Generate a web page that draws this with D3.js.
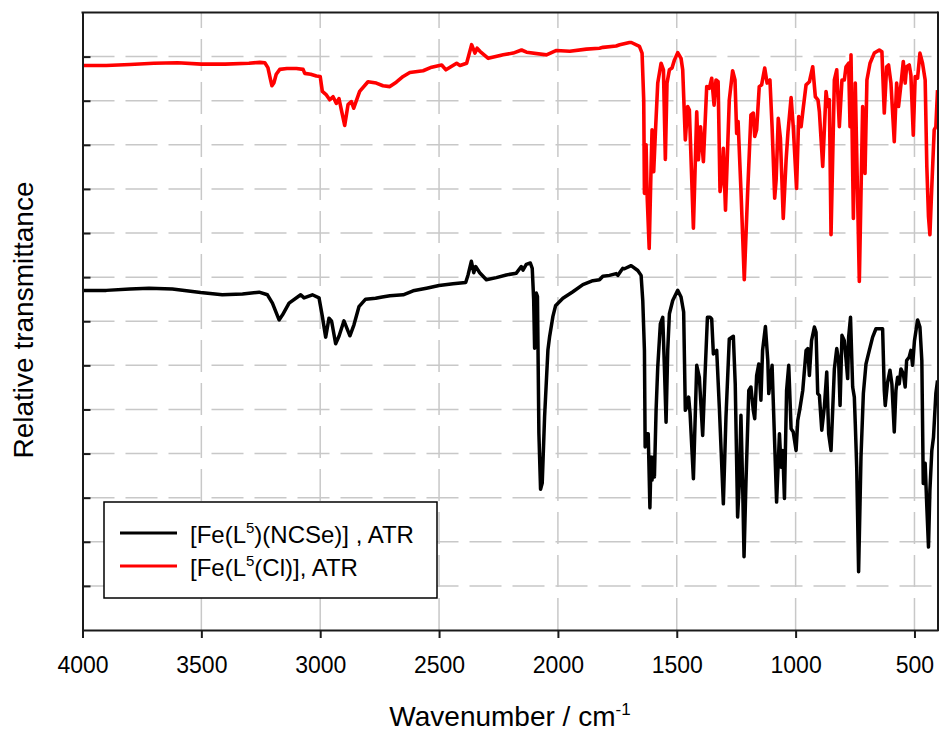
<!DOCTYPE html>
<html>
<head>
<meta charset="utf-8">
<script src="https://cdn.jsdelivr.net/npm/d3@7"></script>
<style>
  body { margin: 0; background: #fff; }
  svg { display: block; }
  text { font-family: "Liberation Sans", Arial, sans-serif; fill: #000; }
</style>
</head>
<body>
<div id="chart"></div>
<script>
// wavenumber (cm-1), relative transmittance (arbitrary units, offset traces)
const redSpectrum = [
  [4000, 12.80], [3900, 12.80], [3800, 12.82], [3700, 12.85], [3600, 12.86], [3500, 12.83],
  [3400, 12.83], [3300, 12.85], [3254, 12.87], [3233, 12.86], [3220, 12.75], [3210, 12.50],
  [3203, 12.34], [3195, 12.40], [3185, 12.60], [3170, 12.71], [3140, 12.73], [3100, 12.73],
  [3072, 12.71], [3065, 12.62], [3040, 12.60], [3016, 12.56], [3000, 12.55], [2991, 12.21],
  [2974, 12.13], [2960, 12.02], [2946, 12.09], [2932, 11.94], [2921, 12.05], [2911, 11.79],
  [2897, 11.44], [2883, 11.91], [2869, 11.98], [2859, 11.83], [2834, 12.21], [2799, 12.43],
  [2764, 12.40], [2736, 12.34], [2707, 12.32], [2680, 12.42], [2651, 12.55], [2623, 12.64],
  [2567, 12.68], [2531, 12.76], [2489, 12.81], [2471, 12.70], [2426, 12.85], [2412, 12.80],
  [2384, 12.85], [2363, 13.27], [2349, 13.08], [2340, 13.19], [2328, 13.12], [2293, 12.96],
  [2230, 13.04], [2188, 13.08], [2153, 13.15], [2132, 13.10], [2048, 13.04], [2006, 13.14],
  [1950, 13.12], [1880, 13.17], [1825, 13.19], [1810, 13.21], [1755, 13.24], [1740, 13.27],
  [1699, 13.32], [1691, 13.32], [1657, 13.23], [1646, 13.08], [1639, 12.02], [1636, 9.90],
  [1629, 11.00], [1625, 9.90], [1616, 8.65], [1608, 10.51], [1604, 11.34], [1597, 10.39],
  [1590, 11.26], [1580, 12.40], [1566, 12.85], [1556, 12.70], [1548, 10.67], [1541, 12.40],
  [1531, 12.70], [1520, 12.74], [1510, 12.92], [1496, 13.09], [1482, 12.96], [1475, 12.70],
  [1464, 11.11], [1454, 11.87], [1447, 11.79], [1430, 9.11], [1416, 11.75], [1409, 10.66],
  [1400, 11.41], [1388, 10.62], [1374, 12.32], [1363, 12.28], [1353, 12.51], [1343, 11.90],
  [1335, 12.47], [1326, 12.43], [1318, 9.94], [1309, 10.28], [1304, 10.92], [1295, 9.52],
  [1279, 12.02], [1265, 12.68], [1255, 12.47], [1248, 11.26], [1242, 11.53], [1230, 9.98],
  [1216, 7.94], [1202, 9.90], [1188, 11.68], [1178, 11.72], [1172, 11.19], [1164, 11.34],
  [1153, 12.32], [1143, 12.36], [1130, 12.74], [1120, 12.40], [1108, 12.47], [1099, 11.41],
  [1088, 9.79], [1082, 10.20], [1073, 11.60], [1064, 11.15], [1052, 9.33], [1040, 10.66],
  [1032, 11.30], [1019, 12.07], [1010, 11.41], [996, 10.01], [987, 11.64], [977, 11.41],
  [968, 11.83], [956, 12.36], [942, 12.43], [928, 12.77], [917, 12.09], [906, 12.02],
  [900, 11.75], [886, 10.51], [872, 12.21], [864, 11.87], [858, 12.02], [851, 8.96],
  [837, 12.47], [827, 12.70], [816, 11.41], [805, 12.47], [795, 12.47], [788, 12.77],
  [777, 12.85], [771, 11.41], [767, 13.04], [757, 9.33], [749, 12.40], [739, 9.75],
  [732, 7.90], [718, 11.87], [708, 10.35], [700, 12.47], [687, 12.85], [669, 13.08],
  [648, 13.15], [637, 13.11], [627, 11.72], [617, 12.77], [609, 12.81], [599, 12.40],
  [585, 11.07], [575, 12.40], [567, 11.87], [557, 12.36], [547, 12.89], [539, 12.40],
  [533, 12.77], [522, 12.81], [515, 12.58], [505, 11.22], [497, 12.55], [487, 12.51],
  [477, 13.08], [466, 12.85], [455, 12.47], [448, 10.51], [441, 9.37], [435, 8.96],
  [427, 10.06], [417, 11.34], [410, 11.41], [403, 12.24]
];

const blackSpectrum = [
  [4000, 7.70], [3900, 7.70], [3800, 7.73], [3720, 7.75], [3622, 7.73], [3503, 7.65],
  [3412, 7.60], [3327, 7.62], [3257, 7.66], [3222, 7.60], [3201, 7.41], [3173, 7.03],
  [3159, 7.14], [3131, 7.41], [3082, 7.60], [3068, 7.53], [3033, 7.60], [3005, 7.53],
  [2991, 7.11], [2977, 6.64], [2963, 7.07], [2952, 7.00], [2935, 6.49], [2921, 6.66],
  [2900, 7.01], [2875, 6.67], [2858, 6.92], [2837, 7.33], [2809, 7.50], [2767, 7.52],
  [2739, 7.55], [2707, 7.58], [2651, 7.60], [2609, 7.69], [2553, 7.75], [2500, 7.81],
  [2441, 7.85], [2388, 7.88], [2378, 8.05], [2364, 8.36], [2354, 8.10], [2346, 8.24],
  [2329, 8.10], [2301, 7.94], [2259, 7.99], [2217, 8.05], [2175, 8.09], [2154, 8.24],
  [2147, 8.16], [2133, 8.29], [2116, 8.32], [2108, 8.20], [2102, 7.49], [2098, 6.39],
  [2091, 7.64], [2086, 7.56], [2080, 4.46], [2073, 3.19], [2066, 3.33], [2056, 4.84],
  [2042, 6.35], [2035, 6.65], [2021, 7.11], [2010, 7.35], [1979, 7.52], [1937, 7.67],
  [1895, 7.83], [1853, 7.92], [1825, 7.94], [1811, 8.02], [1783, 8.04], [1755, 8.08],
  [1748, 8.04], [1727, 8.20], [1720, 8.19], [1692, 8.26], [1664, 8.15], [1650, 8.04],
  [1643, 7.47], [1636, 6.34], [1633, 4.15], [1629, 4.45], [1620, 4.45], [1613, 2.77],
  [1608, 3.92], [1604, 3.40], [1598, 3.92], [1594, 3.47], [1587, 4.98], [1580, 5.96],
  [1569, 6.94], [1559, 7.09], [1552, 5.96], [1545, 4.71], [1538, 6.34], [1531, 7.17],
  [1517, 7.47], [1496, 7.70], [1482, 7.55], [1471, 7.21], [1464, 4.98], [1458, 5.06],
  [1450, 5.28], [1444, 4.91], [1430, 3.43], [1416, 6.00], [1405, 5.73], [1391, 4.41],
  [1382, 5.66], [1371, 7.09], [1360, 7.09], [1353, 7.05], [1346, 6.26], [1332, 6.34],
  [1321, 5.06], [1304, 2.86], [1293, 4.83], [1279, 6.60], [1262, 6.66], [1254, 5.58],
  [1244, 2.56], [1237, 3.32], [1230, 4.87], [1223, 3.32], [1217, 1.66], [1209, 3.32],
  [1197, 5.43], [1188, 5.51], [1178, 4.98], [1172, 4.79], [1164, 5.77], [1155, 6.03],
  [1146, 5.21], [1139, 6.34], [1127, 6.88], [1117, 6.11], [1113, 5.36], [1099, 6.00],
  [1089, 4.37], [1080, 2.90], [1068, 4.45], [1061, 3.69], [1054, 4.07], [1047, 2.98],
  [1038, 5.43], [1029, 6.00], [1019, 4.56], [1010, 4.49], [998, 4.07], [991, 4.75],
  [982, 5.02], [970, 5.43], [956, 6.34], [949, 6.38], [942, 5.77], [933, 6.56],
  [921, 6.87], [914, 6.75], [907, 5.36], [900, 5.32], [890, 4.53], [879, 5.06],
  [869, 5.85], [861, 4.45], [851, 4.07], [837, 5.92], [827, 6.38], [819, 6.11],
  [813, 5.09], [805, 6.68], [795, 6.56], [788, 6.15], [781, 5.70], [777, 6.64],
  [769, 7.09], [760, 5.51], [753, 5.28], [749, 4.68], [743, 3.69], [735, 1.32],
  [725, 3.92], [715, 5.36], [704, 6.03], [690, 6.34], [676, 6.64], [662, 6.83],
  [648, 6.83], [634, 6.83], [627, 5.43], [623, 5.09], [613, 5.62], [603, 5.89],
  [595, 5.58], [585, 4.49], [578, 5.43], [571, 5.73], [564, 5.58], [557, 5.92],
  [547, 5.81], [539, 5.51], [533, 6.11], [522, 6.19], [515, 6.34], [508, 6.00],
  [500, 6.56], [487, 7.03], [477, 6.87], [469, 6.11], [463, 3.32], [455, 3.78],
  [448, 2.79], [441, 1.88], [435, 3.17], [427, 4.07], [420, 4.37], [410, 5.36],
  [403, 5.66]
];

const xTicks = [4000, 3500, 3000, 2500, 2000, 1500, 1000, 500];
const yTicks = [1, 2, 3, 4, 5, 6, 7, 8, 9, 10, 11, 12, 13];
const seriesNames = ["black", "red"];
const seriesColors = ["#000000", "#ff0000"];

const W = 939, H = 733;
const margin = { top: 12.5, right: 1, bottom: 103, left: 82.5 };
const width = W - margin.left - margin.right,
    height = H - margin.top - margin.bottom;

const svg = d3.select("#chart").append("svg")
    .attr("width", W)
    .attr("height", H);

const g = svg.append("g")
    .attr("transform", `translate(${margin.left},${margin.top})`);

const x = d3.scaleLinear().domain([4000, 401]).range([0, width]);
const y = d3.scaleLinear().domain([0, 14]).range([height, 0]);

// grid
const gridColor = "#c8c8c8";
g.append("g").selectAll("line")
    .data(xTicks.slice(1))
    .enter().append("line")
    .attr("x1", d => x(d)).attr("x2", d => x(d))
    .attr("y1", height).attr("y2", 0)
    .attr("stroke", gridColor)
    .attr("stroke-width", 1.5)
    .attr("stroke-dasharray", "32,11");

g.append("g").selectAll("line")
    .data(yTicks)
    .enter().append("line")
    .attr("x1", 0).attr("x2", width)
    .attr("y1", d => y(d)).attr("y2", d => y(d))
    .attr("stroke", gridColor)
    .attr("stroke-width", 1.5)
    .attr("stroke-dasharray", "32,11");

// spectra
g.append("clipPath").attr("id", "clip")
    .append("rect").attr("width", width).attr("height", height);

const line = d3.line()
    .x(d => x(d[0]))
    .y(d => y(d[1]));

const plot = g.append("g").attr("clip-path", "url(#clip)");

plot.append("path")
    .datum(blackSpectrum)
    .attr("fill", "none")
    .attr("stroke", seriesColors[0])
    .attr("stroke-width", 3.5)
    .attr("stroke-linejoin", "round")
    .attr("d", line);

plot.append("path")
    .datum(redSpectrum)
    .attr("fill", "none")
    .attr("stroke", seriesColors[1])
    .attr("stroke-width", 3.6)
    .attr("stroke-linejoin", "round")
    .attr("d", line);

// axes
const xAxis = g.append("g")
    .attr("transform", `translate(0,${height})`)
    .call(d3.axisBottom(x).tickValues(xTicks).tickFormat(d3.format("d"))
        .tickSize(8).tickSizeOuter(0).tickPadding(19));

xAxis.selectAll("text").style("font-size", "23px");

const yAxis = g.append("g")
    .call(d3.axisLeft(y).tickValues(yTicks).tickSize(-8).tickSizeOuter(0).tickFormat(""));

[xAxis, yAxis].forEach(a => {
    a.select(".domain").attr("stroke", "#1a1a1a").attr("stroke-width", 2);
    a.selectAll(".tick line").attr("stroke", "#1a1a1a").attr("stroke-width", 2);
});

// top and right frame
g.append("line").attr("x1", -1).attr("x2", width).attr("y1", 0).attr("y2", 0)
    .attr("stroke", "#1a1a1a").attr("stroke-width", 2);
g.append("line").attr("x1", width).attr("x2", width).attr("y1", -1).attr("y2", height + 1)
    .attr("stroke", "#1a1a1a").attr("stroke-width", 2);

// axis titles
const xTitle = svg.append("text")
    .attr("x", 510)
    .attr("y", 726)
    .attr("text-anchor", "middle")
    .style("font-size", "28px");
xTitle.append("tspan").text("Wavenumber / cm");
xTitle.append("tspan").attr("dy", -11).style("font-size", "17px").text("-1");

svg.append("text")
    .attr("transform", "translate(33,320) rotate(-90)")
    .attr("text-anchor", "middle")
    .style("font-size", "28px")
    .text("Relative transmittance");

// legend
const legend = svg.append("g").attr("transform", "translate(104,502)");
legend.append("rect")
    .attr("width", 333).attr("height", 96)
    .attr("fill", "#fff")
    .attr("stroke", "#000")
    .attr("stroke-width", 1.5);

const legendLabels = [
    ["[Fe(L", "5", ")(NCSe)] , ATR"],
    ["[Fe(L", "5", "(Cl)], ATR"]
];

const items = legend.selectAll(".legend-item")
    .data(seriesNames)
    .enter().append("g")
    .attr("class", "legend-item")
    .attr("transform", (d, i) => `translate(0,${31 + i * 33})`);

items.append("line")
    .attr("x1", 16).attr("x2", 73)
    .attr("stroke", (d, i) => seriesColors[i])
    .attr("stroke-width", 3);

items.append("text")
    .attr("x", 86)
    .attr("y", 10)
    .style("font-size", "24px")
    .each(function (d, i) {
        const t = d3.select(this);
        const parts = legendLabels[i];
        t.append("tspan").text(parts[0]);
        t.append("tspan").attr("dy", -10).style("font-size", "15px").text(parts[1]);
        t.append("tspan").attr("dy", 10).text(parts[2]);
    });
</script>
</body>
</html>
